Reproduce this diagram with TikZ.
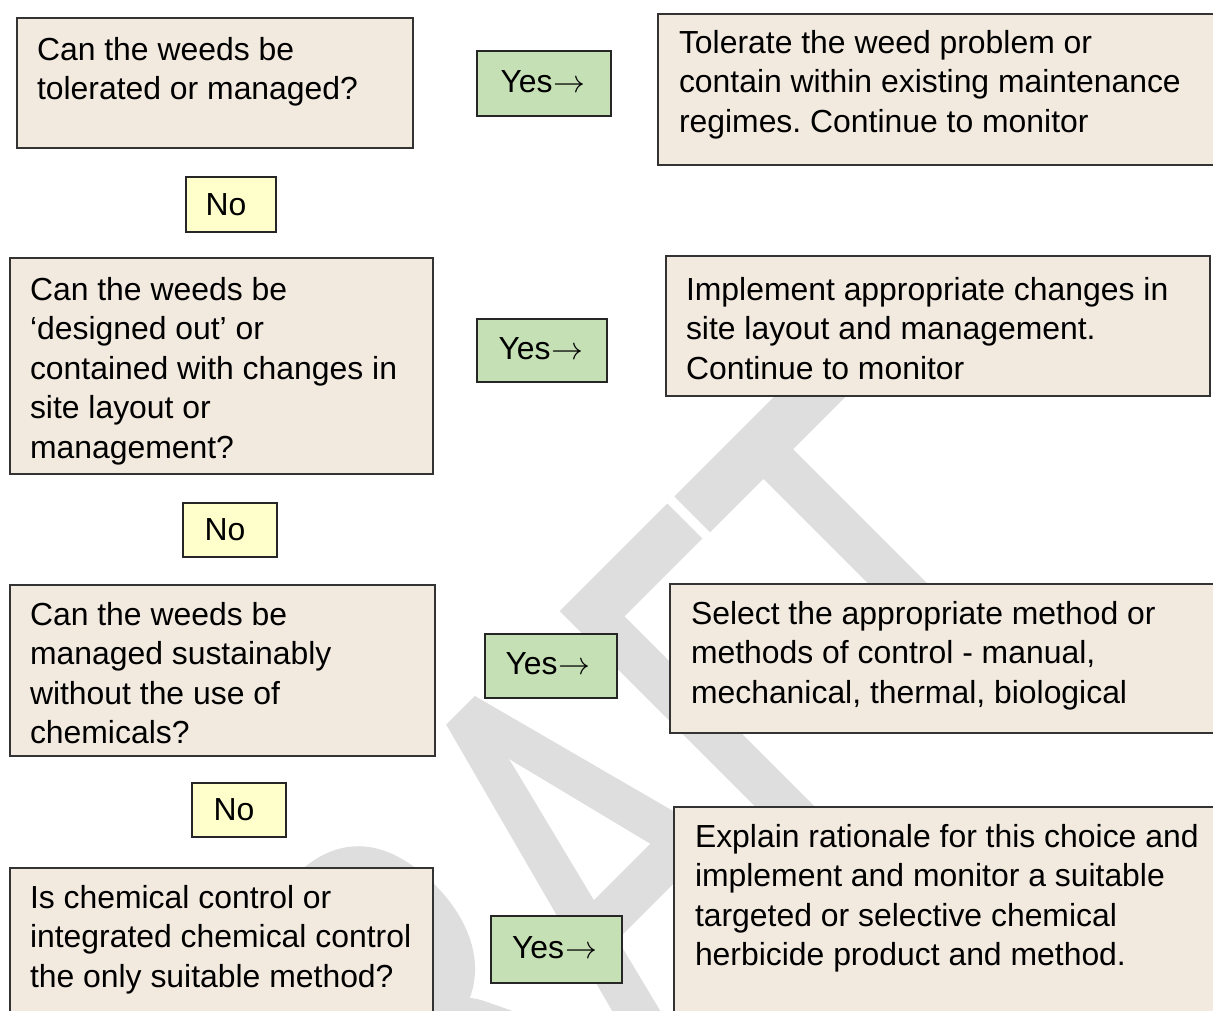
\RequirePackage{fix-cm}
\documentclass[tikz,border=0pt]{standalone}
\usepackage{fontspec}
\setmainfont{Liberation Sans}
\newfontfamily\wmfont{Carlito}[FakeBold=1.5]
\usetikzlibrary{fit}
\definecolor{beige}{HTML}{F2E9DF}
\definecolor{yesgreen}{HTML}{C5E0B4}
\definecolor{noyellow}{HTML}{FFFFCC}
\definecolor{wmgray}{HTML}{DEDEDE}
\newcommand\mystrut{\rule{0pt}{30pt}}
\newcommand\yesarrow{Yes\kern1pt$\rightarrow$}
\frenchspacing
\begin{document}
\begin{tikzpicture}[x=1pt,y=-1pt,
  boxstyle/.style={draw=black!80, line width=1.2pt, fill=beige, inner sep=0pt},
  yesbox/.style={draw=black!85, line width=1.2pt, fill=yesgreen, inner sep=0pt},
  nobox/.style={draw=black!85, line width=1.2pt, fill=noyellow, inner sep=0pt},
  txt/.style={inner sep=0pt, outer sep=0pt, align=left, anchor=north west, font=\fontsize{31.9}{39.5}\selectfont},
  lbl/.style={inner sep=0pt, font=\fontsize{31.9}{39.5}\selectfont},
  wm/.style={inner sep=0pt, text=wmgray, rotate=45, yscale=1.41, font=\wmfont\fontsize{402}{402}\selectfont},
]
\useasboundingbox (0,0) rectangle (1213,1010);
\fill[white] (0,0) rectangle (1213,1010);

% watermark
\node[wm] (wm) at (562,872) {DRAFT};

% row 1
\node[boxstyle, fit={(17,18) (413,148)}] (q1) {};
\node[txt] (q1t) at (37,30) {\mystrut Can the weeds be\\tolerated or managed?};
\node[yesbox, fit={(477,51) (611,116)}] (y1) {};
\node[lbl] (y1t) at ([xshift=-1pt,yshift=2pt]y1.center) {\yesarrow};
\node[boxstyle, fit={(658,14) (1216,165)}] (a1) {};
\node[txt] (a1t) at (679,23) {\mystrut Tolerate the weed problem or\\contain within existing maintenance\\regimes. Continue to monitor};
\node[nobox, fit={(186,177) (276,232)}] (n1) {};
\node[lbl] (n1t) at ([xshift=-5pt]n1.center) {No};

% row 2
\node[boxstyle, fit={(10,258) (433,474)}] (q2) {};
\node[txt] (q2t) at (30,270) {\mystrut Can the weeds be\\‘designed out’ or\\contained with changes in\\site layout or\\management?};
\node[yesbox, fit={(477,319) (607,382)}] (y2) {};
\node[lbl] (y2t) at ([xshift=-1pt,yshift=2pt]y2.center) {\yesarrow};
\node[boxstyle, fit={(666,256) (1210,396)}] (a2) {};
\node[txt] (a2t) at (686,270) {\mystrut Implement appropriate changes in\\site layout and management.\\Continue to monitor};
\node[nobox, fit={(183,503) (277,557)}] (n2) {};
\node[lbl] (n2t) at ([xshift=-5pt]n2.center) {No};

% row 3
\node[boxstyle, fit={(10,585) (435,756)}] (q3) {};
\node[txt] (q3t) at (30,595) {\mystrut Can the weeds be\\managed sustainably\\without the use of\\chemicals?};
\node[yesbox, fit={(485,634) (617,698)}] (y3) {};
\node[lbl] (y3t) at ([xshift=-3pt,yshift=2pt]y3.center) {\yesarrow};
\node[boxstyle, fit={(670,584) (1216,733)}] (a3) {};
\node[txt] (a3t) at (691,594) {\mystrut Select the appropriate method or\\methods of control - manual,\\mechanical, thermal, biological};
\node[nobox, fit={(192,783) (286,837)}] (n3) {};
\node[lbl] (n3t) at ([xshift=-5pt]n3.center) {No};

% row 4
\node[boxstyle, fit={(10,868) (433,1016)}] (q4) {};
\node[txt] (q4t) at (30,878) {\mystrut Is chemical control or\\integrated chemical control\\the only suitable method?};
\node[yesbox, fit={(491,916) (622,983)}] (y4) {};
\node[lbl] (y4t) at ([xshift=-2pt,yshift=2pt]y4.center) {\yesarrow};
\node[boxstyle, fit={(674,807) (1216,1016)}] (a4) {};
\node[txt] (a4t) at (695,817) {\mystrut Explain rationale for this choice and\\implement and monitor a suitable\\targeted or selective chemical\\herbicide product and method.};
\end{tikzpicture}
\end{document}
